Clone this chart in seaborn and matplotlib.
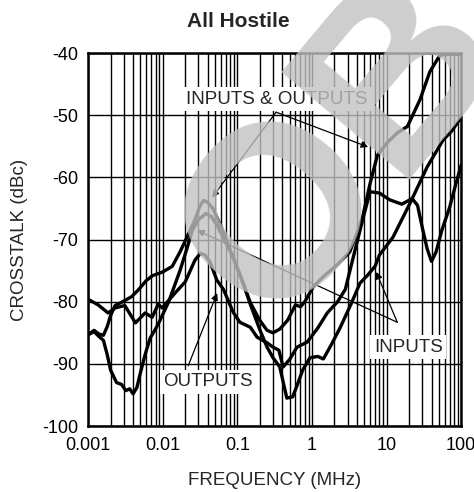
import numpy as np
import pandas as pd
import seaborn as sns
import matplotlib.pyplot as plt
from matplotlib.ticker import LogLocator, FixedLocator, NullFormatter

# crosstalk curves, frequency in MHz, crosstalk in dBc
f_io = [0.001, 0.0012, 0.0014, 0.0016, 0.0018, 0.002, 0.0023, 0.003, 0.0038, 0.0047,
        0.006, 0.0073, 0.01, 0.0134, 0.017, 0.02, 0.027, 0.031, 0.035, 0.04, 0.047,
        0.06, 0.08, 0.11, 0.15, 0.2, 0.25, 0.3, 0.37, 0.47, 0.6, 0.7, 0.8, 1.04, 1.4,
        2.2, 3.2, 4.0, 4.85, 6.0, 7.5, 10, 14, 19, 28, 38, 52, 70, 100]
db_io = [-85.3, -84.6, -85.2, -85.4, -84.0, -82.2, -80.6, -79.9, -79.2, -78.1,
         -76.6, -75.8, -75.2, -74.3, -72.0, -70.2, -66.8, -64.8, -63.7, -64.0, -65.0,
         -67.8, -71.7, -76.0, -80.2, -83.0, -84.6, -85.0, -84.4, -83.0, -80.5, -80.8,
         -80.0, -77.6, -76.0, -74.0, -72.0, -69.0, -66.0, -61.0, -56.5, -54.5, -52.8,
         -51.8, -47.5, -43.0, -40.3, -40.2, -40.2]

f_out = [0.001, 0.00136, 0.00185, 0.0023, 0.0031, 0.0043, 0.0058, 0.0072, 0.0087,
         0.0098, 0.0146, 0.02, 0.027, 0.032, 0.037, 0.043, 0.053, 0.065, 0.088, 0.108,
         0.149, 0.184, 0.25, 0.30, 0.36, 0.41, 0.5, 0.63, 0.86, 1.2, 1.6, 2.2, 2.8,
         3.3, 4.0, 4.85, 6.0, 8.0, 11, 16, 22, 26, 30, 35, 40, 46, 55, 70, 85, 100]
db_out = [-79.6, -80.5, -81.8, -81.0, -80.6, -83.4, -81.8, -82.5, -80.4,
          -81.0, -78.6, -76.8, -73.3, -72.2, -72.5, -73.6, -76.5, -78.0, -81.7, -83.3,
          -84.1, -85.7, -86.6, -87.3, -87.8, -90.5, -89.3, -87.3, -86.5, -84.2, -81.8,
          -80.0, -78.0, -74.5, -70.5, -66.5, -62.3, -62.5, -63.6, -64.3, -63.4, -64.5,
          -68.0, -71.5, -73.5, -72.0, -68.5, -64.8, -61.0, -58.0]

f_in = [0.001, 0.0012, 0.0014, 0.0016, 0.0018, 0.002, 0.0024, 0.0028, 0.0032, 0.0036,
        0.004, 0.0045, 0.005, 0.0058, 0.0068, 0.0079, 0.009, 0.012, 0.017, 0.021,
        0.025, 0.03, 0.038, 0.045, 0.055, 0.07, 0.088, 0.12, 0.15, 0.2, 0.25, 0.3,
        0.37, 0.46, 0.55, 0.63, 0.75, 0.94, 1.2, 1.42, 1.8, 2.4, 3.3, 4.4, 5.5, 7.0,
        8.0, 12.2, 20.7, 35, 57, 75, 100]
db_in = [-85.3, -84.8, -85.6, -86.2, -88.5, -91.0, -93.0, -93.3, -94.3, -94.0,
         -94.8, -93.8, -91.5, -88.5, -85.8, -84.5, -83.2, -80.0, -75.0, -71.5,
         -68.5, -66.8, -65.8, -66.3, -68.0, -70.5, -72.8, -77.0, -80.5, -84.5, -87.3,
         -89.0, -90.5, -95.5, -95.3, -93.5, -91.0, -89.0, -88.8, -89.2, -87.0, -84.1,
         -80.5, -77.0, -75.8, -74.3, -72.5, -69.6, -64.1, -58.3, -54.0, -52.5, -50.3]

x_ticks = [0.001, 0.01, 0.1, 1, 10, 100]
x_tick_labels = ["0.001", "0.01", "0.1", "1", "10", "100"]
y_ticks = [-100, -90, -80, -70, -60, -50, -40]

df = pd.concat([
    pd.DataFrame({"freq": f_io, "db": db_io, "curve": "INPUTS & OUTPUTS"}),
    pd.DataFrame({"freq": f_out, "db": db_out, "curve": "OUTPUTS"}),
    pd.DataFrame({"freq": f_in, "db": db_in, "curve": "INPUTS"}),
])

sns.set_style("white")
plt.rcParams["font.family"] = ["Liberation Sans", "DejaVu Sans"]

fig = plt.figure(figsize=(4.74, 4.92), dpi=100)
ax = fig.add_axes([0.186, 0.134, 0.787, 0.758])

sns.lineplot(data=df, x="freq", y="db", units="curve", estimator=None, sort=False,
             color="black", lw=2.4, ax=ax, zorder=3)

ax.set_xscale("log")
ax.set_xlim(0.001, 100)
ax.set_ylim(-100, -40)
ax.xaxis.set_major_locator(FixedLocator(x_ticks))
ax.set_xticklabels(x_tick_labels)
ax.xaxis.set_minor_locator(LogLocator(base=10, subs=np.arange(2, 10)))
ax.xaxis.set_minor_formatter(NullFormatter())
ax.set_yticks(y_ticks)
ax.set_yticklabels([str(v) for v in y_ticks])
ax.tick_params(which="both", length=0, labelsize=13, colors="black")
ax.tick_params(axis="x", pad=8)
ax.tick_params(axis="y", pad=7)
ax.grid(which="both", axis="x", color="black", lw=1.0)
ax.grid(which="major", axis="y", color="black", lw=1.0)
ax.set_axisbelow(True)
for s in ax.spines.values():
    s.set_color("black")
    s.set_linewidth(1.8)

ax.set_xlabel("FREQUENCY (MHz)", fontsize=13.5, labelpad=13)
ax.set_ylabel("CROSSTALK (dBc)", fontsize=13.5, labelpad=10)
fig.text(0.502, 0.956, "All Hostile", ha="center", va="center",
         fontsize=15, fontweight="bold")

box = dict(boxstyle="square,pad=0.2", fc="white", ec="none")
ax.text(0.342, -47.4, "INPUTS & OUTPUTS", ha="center", va="center",
        fontsize=13.5, bbox=box, zorder=2.5)
ax.text(19.5, -87.3, "INPUTS", ha="center", va="center",
        fontsize=13.5, bbox=box, zorder=2.5)
ax.text(0.0406, -92.9, "OUTPUTS", ha="center", va="center",
        fontsize=13.5, bbox=box, zorder=2.5)

arrow = dict(arrowstyle="-|>", color="black", lw=0.9, mutation_scale=10,
             shrinkA=0, shrinkB=0)
for start, end in [((0.331, -49.5), (0.0459, -63.2)),
                   ((0.331, -49.5), (5.66, -55.1)),
                   ((13.9, -83.3), (0.0289, -68.5)),
                   ((13.9, -83.3), (7.26, -75.2)),
                   ((0.0219, -90.3), (0.0536, -78.6))]:
    ax.annotate("", xy=end, xytext=start, arrowprops=arrow, zorder=4)

# grey watermark lying over the plot
fig.text(227 / 474, 1 - 289 / 492, "OBSOLETE", rotation=50, rotation_mode="anchor",
         ha="left", va="center", fontsize=175, fontweight="bold",
         color=(0.76, 0.76, 0.76), alpha=0.8, zorder=10)

fig.savefig("out.png", dpi=100)
